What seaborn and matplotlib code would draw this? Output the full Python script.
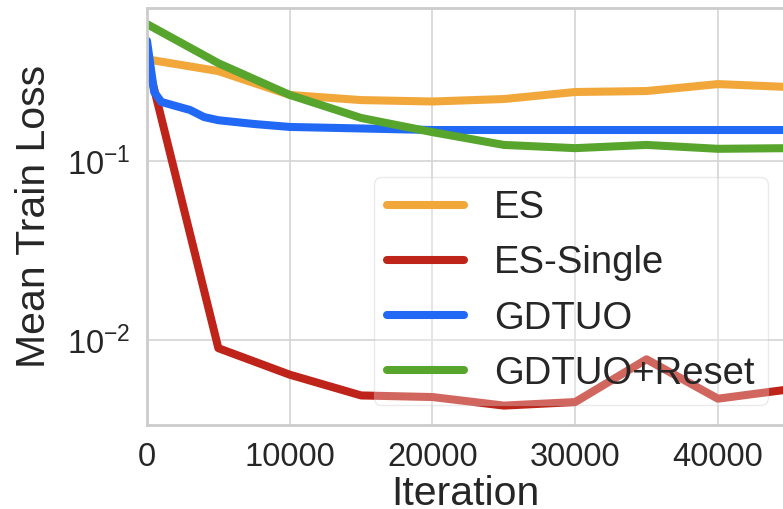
import numpy as np
import pandas as pd
import matplotlib
matplotlib.use("Agg")
import matplotlib.pyplot as plt
import seaborn as sns

# Training curves (mean train loss per evaluation step)
series_names = ["ES", "ES-Single", "GDTUO", "GDTUO+Reset"]

iters_coarse = [0, 5000, 10000, 15000, 20000, 25000, 30000, 35000, 40000, 45000]
es_loss = [0.370, 0.318, 0.234, 0.219, 0.215, 0.222, 0.243, 0.246, 0.269, 0.259]
es_single_loss = [0.366, 0.0090, 0.0064, 0.0049, 0.0048, 0.0043, 0.0045, 0.0078, 0.0047, 0.0053]
reset_loss = [0.582, 0.352, 0.234, 0.174, 0.145, 0.123, 0.118, 0.123, 0.117, 0.118]

iters_fine = [0, 500, 1000, 2000, 3000, 4000, 5000, 7500, 10000, 15000, 20000,
              25000, 30000, 35000, 40000, 45000]
gdtuo_loss = [0.470, 0.243, 0.214, 0.203, 0.193, 0.176, 0.169, 0.161, 0.155,
              0.152, 0.149, 0.149, 0.149, 0.149, 0.149, 0.149]

colors = ["#F2A73B", "#BE2419", "#2169F5", "#58A52E"]

frames = [
    pd.DataFrame({"Iteration": iters_coarse, "loss": es_loss, "method": series_names[0]}),
    pd.DataFrame({"Iteration": iters_coarse, "loss": es_single_loss, "method": series_names[1]}),
    pd.DataFrame({"Iteration": iters_fine, "loss": gdtuo_loss, "method": series_names[2]}),
    pd.DataFrame({"Iteration": iters_coarse, "loss": reset_loss, "method": series_names[3]}),
]
df = pd.concat(frames, ignore_index=True)

sns.set_theme(style="whitegrid")
plt.rcParams["font.family"] = ["Liberation Sans", "DejaVu Sans"]

fig = plt.figure(figsize=(7.83, 5.09), dpi=100)
ax = fig.add_axes([147 / 783, 1 - 425 / 509, 1 - 147 / 783, (425 - 8) / 509])

sns.lineplot(data=df, x="Iteration", y="loss", hue="method",
             hue_order=series_names, palette=colors, linewidth=5.8,
             ax=ax, legend=True)

ax.set_yscale("log")
ax.set_xlim(0, 44560)
ax.set_ylim(0.00335, 0.716)
ax.set_xticks([0, 10000, 20000, 30000, 40000])
ax.set_xlabel("Iteration", fontsize=29.5, labelpad=2, color="#262626")
ax.set_ylabel("Mean Train Loss", fontsize=29.5, labelpad=10, color="#262626")
ax.tick_params(axis="both", labelsize=23.5, pad=12, length=0, colors="#262626")
ax.minorticks_off()

ax.grid(True, which="major", color="#d4d4d4", linewidth=1.2)
for side in ["left", "top", "bottom"]:
    ax.spines[side].set_color("#cccccc")
    ax.spines[side].set_linewidth(2.0)
ax.spines["right"].set_visible(False)

handles, labels = ax.get_legend_handles_labels()
leg = ax.legend(handles, labels, loc="lower right",
                bbox_to_anchor=(768 / 783, 1 - 405 / 509),
                bbox_transform=fig.transFigure, borderaxespad=0,
                fontsize=27.5, frameon=True, framealpha=0.3,
                borderpad=0.35, labelspacing=0.5, handlelength=2.0,
                handletextpad=0.8)
leg.get_frame().set_edgecolor("#bbbbbb")
for line in leg.get_lines():
    line.set_linewidth(5.8)
    line.set_solid_capstyle("round")
for t in leg.get_texts():
    t.set_color("#262626")

fig.savefig("out.png", dpi=100)
